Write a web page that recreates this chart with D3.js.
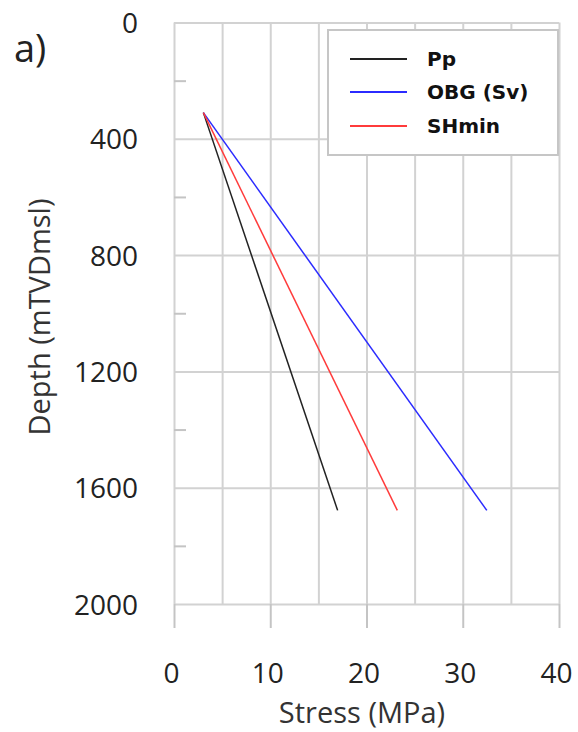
<!DOCTYPE html>
<html>
<head>
<meta charset="utf-8">
<script src="https://cdn.jsdelivr.net/npm/d3@7/dist/d3.min.js"></script>
<style>
  html, body { margin: 0; padding: 0; background: #fff; }
  svg { display: block; }
</style>
</head>
<body>
<svg id="chart" width="578" height="732"></svg>
<script>
// ---- data ----
const seriesNames = ["Pp", "OBG (Sv)", "SHmin"];
const seriesColors = ["#222222", "#2b2bff", "#ff3b3b"];
const depths = [310, 1678];
const ppStress = [3.05, 17.0];
const obgStress = [3.05, 32.5];
const shminStress = [3.05, 23.2];
const xTicks = [0, 10, 20, 30, 40];
const xGridTicks = [0, 5, 10, 15, 20, 25, 30, 35, 40];
const yTicks = [0, 400, 800, 1200, 1600, 2000];
const yMinorTicks = [200, 600, 1000, 1400, 1800];
const xTitle = "Stress (MPa)";
const yTitle = "Depth (mTVDmsl)";
const panelLabel = "a)";

// ---- layout ----
const svg = d3.select("#chart");
const plotL = 174, plotR = 559, plotT = 22.5, plotB = 604;
const x = d3.scaleLinear().domain([0, 40]).range([plotL, plotR]);
const y = d3.scaleLinear().domain([0, 2000]).range([plotT, plotB]);
const gridColor = "#d2d2d2";
const tickFont = "'Open Sans', sans-serif";

// vertical gridlines
const gx = svg.append("g").attr("transform", `translate(0,${plotB})`)
  .call(d3.axisBottom(x).tickValues(xGridTicks).tickSize(-(plotB - plotT)).tickFormat(""));
gx.select(".domain").remove();
gx.selectAll("line").attr("stroke", gridColor).attr("stroke-width", 2);

// horizontal gridlines
const gy = svg.append("g").attr("transform", `translate(${plotL},0)`)
  .call(d3.axisRight(y).tickValues(yTicks).tickSize(plotR - plotL).tickFormat(""));
gy.select(".domain").remove();
gy.selectAll("line").attr("stroke", gridColor).attr("stroke-width", 2);

// y minor ticks (inside)
const gym = svg.append("g").attr("transform", `translate(${plotL},0)`)
  .call(d3.axisRight(y).tickValues(yMinorTicks).tickSize(12).tickFormat(""));
gym.select(".domain").remove();
gym.selectAll("line").attr("stroke", "#c4c4c4").attr("stroke-width", 2);

// x ticks below axis with labels
const gxa = svg.append("g").attr("transform", `translate(0,${plotB})`)
  .call(d3.axisBottom(x).tickValues(xTicks).tickSize(24).tickPadding(0).tickFormat(d3.format("d")));
gxa.select(".domain").remove();
gxa.selectAll("line").attr("stroke", "#c4c4c4").attr("stroke-width", 2);
gxa.selectAll("text")
  .attr("y", 79).attr("dy", null).attr("dx", -3)
  .attr("fill", "#222").style("font-family", tickFont).style("font-size", "28px");

// y tick labels
const gya = svg.append("g").attr("transform", `translate(${plotL},0)`)
  .call(d3.axisLeft(y).tickValues(yTicks).tickSize(0).tickPadding(36).tickFormat(d3.format("d")));
gya.select(".domain").remove();
gya.selectAll("text")
  .attr("dy", "0.36em")
  .attr("fill", "#222").style("font-family", tickFont).style("font-size", "28px");

// ---- series ----
const series = [ppStress, obgStress, shminStress];
const line = d3.line().x(d => x(d[0])).y(d => y(d[1]));
series.forEach((vals, i) => {
  const pts = vals.map((v, j) => [v, depths[j]]);
  svg.append("path")
    .datum(pts)
    .attr("d", line)
    .attr("fill", "none")
    .attr("stroke", seriesColors[i])
    .attr("stroke-width", 1.5);
});

// ---- legend ----
const lg = svg.append("g");
lg.append("rect")
  .attr("x", 328).attr("y", 30).attr("width", 230).attr("height", 125)
  .attr("fill", "#fff").attr("stroke", "#c6c6c6").attr("stroke-width", 2);
const legendRows = [59, 92, 126];
seriesNames.forEach((name, i) => {
  lg.append("line")
    .attr("x1", 350).attr("x2", 407)
    .attr("y1", legendRows[i]).attr("y2", legendRows[i])
    .attr("stroke", seriesColors[i]).attr("stroke-width", 2);
  lg.append("text")
    .attr("x", 427).attr("y", legendRows[i] + 7)
    .attr("fill", "#111")
    .style("font-family", "'DejaVu Sans', sans-serif")
    .style("font-weight", "bold")
    .style("font-size", "20px")
    .text(name);
});

// ---- titles ----
svg.append("text")
  .attr("x", 362).attr("y", 723)
  .attr("text-anchor", "middle")
  .attr("fill", "#333")
  .style("font-family", tickFont).style("font-size", "29px")
  .text(xTitle);

svg.append("text")
  .attr("transform", `translate(50,317) rotate(-90)`)
  .attr("text-anchor", "middle")
  .attr("fill", "#333")
  .style("font-family", tickFont).style("font-size", "29px")
  .text(yTitle);

svg.append("text")
  .attr("x", 14).attr("y", 62)
  .attr("fill", "#222")
  .style("font-family", tickFont).style("font-size", "38px")
  .text(panelLabel);
</script>
</body>
</html>
